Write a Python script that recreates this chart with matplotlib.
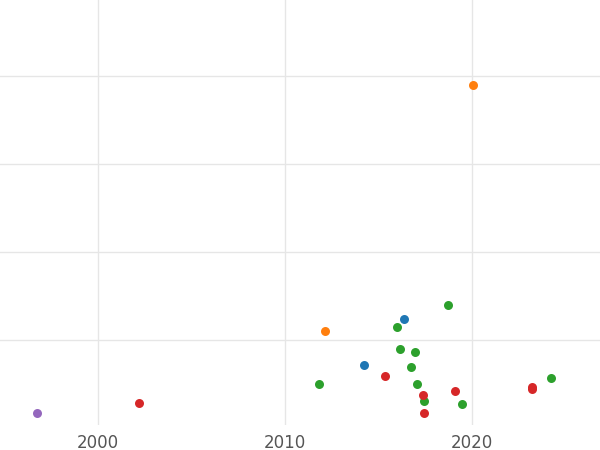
import matplotlib
matplotlib.use("Agg")
import matplotlib.pyplot as plt

blue_x=[2014.22,2016.36]; blue_y=[0.72,1.24]
orange_x=[2012.14,2020.05]; orange_y=[1.10,3.90]
green_x=[2011.82,2015.99,2016.15,2016.95,2016.74,2017.06,2017.43,2018.72,2019.47,2024.22]
green_y=[0.50,1.15,0.90,0.86,0.69,0.50,0.31,1.40,0.27,0.57]
red_x=[2002.19,2015.35,2017.38,2017.43,2019.09,2023.21,2023.21]
red_y=[0.28,0.59,0.375,0.17,0.42,0.44,0.47]
purple_x=[1996.74]; purple_y=[0.17]

fig=plt.figure(figsize=(6,4.5),dpi=100)
ax=fig.add_axes([0,0.055,1,0.945])
for xs,ys,c in [(blue_x,blue_y,'#1f77b4'),(orange_x,orange_y,'#ff7f0e'),(green_x,green_y,'#2ca02c'),(red_x,red_y,'#d62728'),(purple_x,purple_y,'#9467bd')]:
    ax.scatter(xs,ys,s=42,color=c,zorder=3,linewidths=0)
ax.set_xlim(1994.76,2026.85)
ax.set_ylim(0.03,4.86)
ax.set_xticks([2000,2010,2020])
ax.set_yticks([1,2,3,4])
ax.set_yticklabels([])
ax.tick_params(length=0,labelsize=12,labelcolor='#555555',pad=6)
ax.grid(True,color='#e6e6e6',linewidth=1)
ax.set_axisbelow(True)
for s in ax.spines.values(): s.set_visible(False)
fig.savefig('out.png')
